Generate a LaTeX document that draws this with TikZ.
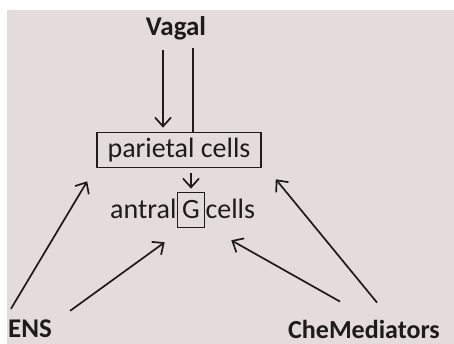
\documentclass[tikz,border=0pt]{standalone}
\usepackage{fontspec}
\setmainfont{Carlito}
\usepackage{xcolor}
\usetikzlibrary{arrows.meta,positioning,calc}
\definecolor{paper}{HTML}{E4DCDA}
\definecolor{ink}{HTML}{1E1B1B}

\begin{document}
\begin{tikzpicture}[x=1pt, y=-1pt,
    txt/.style={font=\fontsize{28}{30}\selectfont, text=ink, inner sep=0pt},
    head/.style={font=\fontsize{27}{30}\selectfont\bfseries, text=ink, inner sep=0pt},
    cellbox/.style={draw=ink, line width=1.6pt, txt, inner sep=0pt},
    line/.style={draw=ink, line width=1.7pt, -{Straight Barb[length=9pt, width=16pt]}},
    plain/.style={draw=ink, line width=1.7pt}]

    % paper
    \useasboundingbox (0,0) rectangle (454,344);
    \fill [white] (0,0) rectangle (454,344);
    \fill [paper] (7,10) rectangle (454,344);

    \node [head] (vagal) at (176,28) {Vagal};
    \node [cellbox, minimum width=164pt, minimum height=35pt] (parietal) at (179,150) {parietal cells};
    \node [cellbox, minimum width=27pt, minimum height=35pt] (G) at (191,210) {G};
    \node [txt, anchor=base east] (antral) at (G.base west) {antral};
    \node [txt, anchor=base west] (cells) at (G.base east) {cells};

    \node [head] (ens) at (30,329) {ENS};
    \node [head, font=\fontsize{26}{30}\selectfont\bfseries] (chem) at (364,329) {CheMediators};

    % vagal input
    \coordinate (vL) at (163,50);
    \coordinate (vR) at (193,48);
    \draw [line, shorten >=4pt] (vL) -- (vL |- parietal.north);
    \draw [plain] (vR) -- (vR |- parietal.north);
    \draw [line, shorten <=5pt, shorten >=3pt] (parietal.south -| G.north) -- (G.north);

    % ENS and chemical mediators
    \draw [line] ($(ens.north west)+(3,-11)$) -- ($(parietal.south west)+(-9,13)$);
    \draw [line] ($(ens.north east)+(18,-9)$) -- ($(G.south west)+(-12,14)$);
    \draw [line] ($(chem.north west)+(52,-18)$) -- ($(G.south east)+(26,12)$);
    \draw [line] ($(chem.north)+(13,-17)$) -- ($(parietal.south east)+(14,11)$);
\end{tikzpicture}
\end{document}
